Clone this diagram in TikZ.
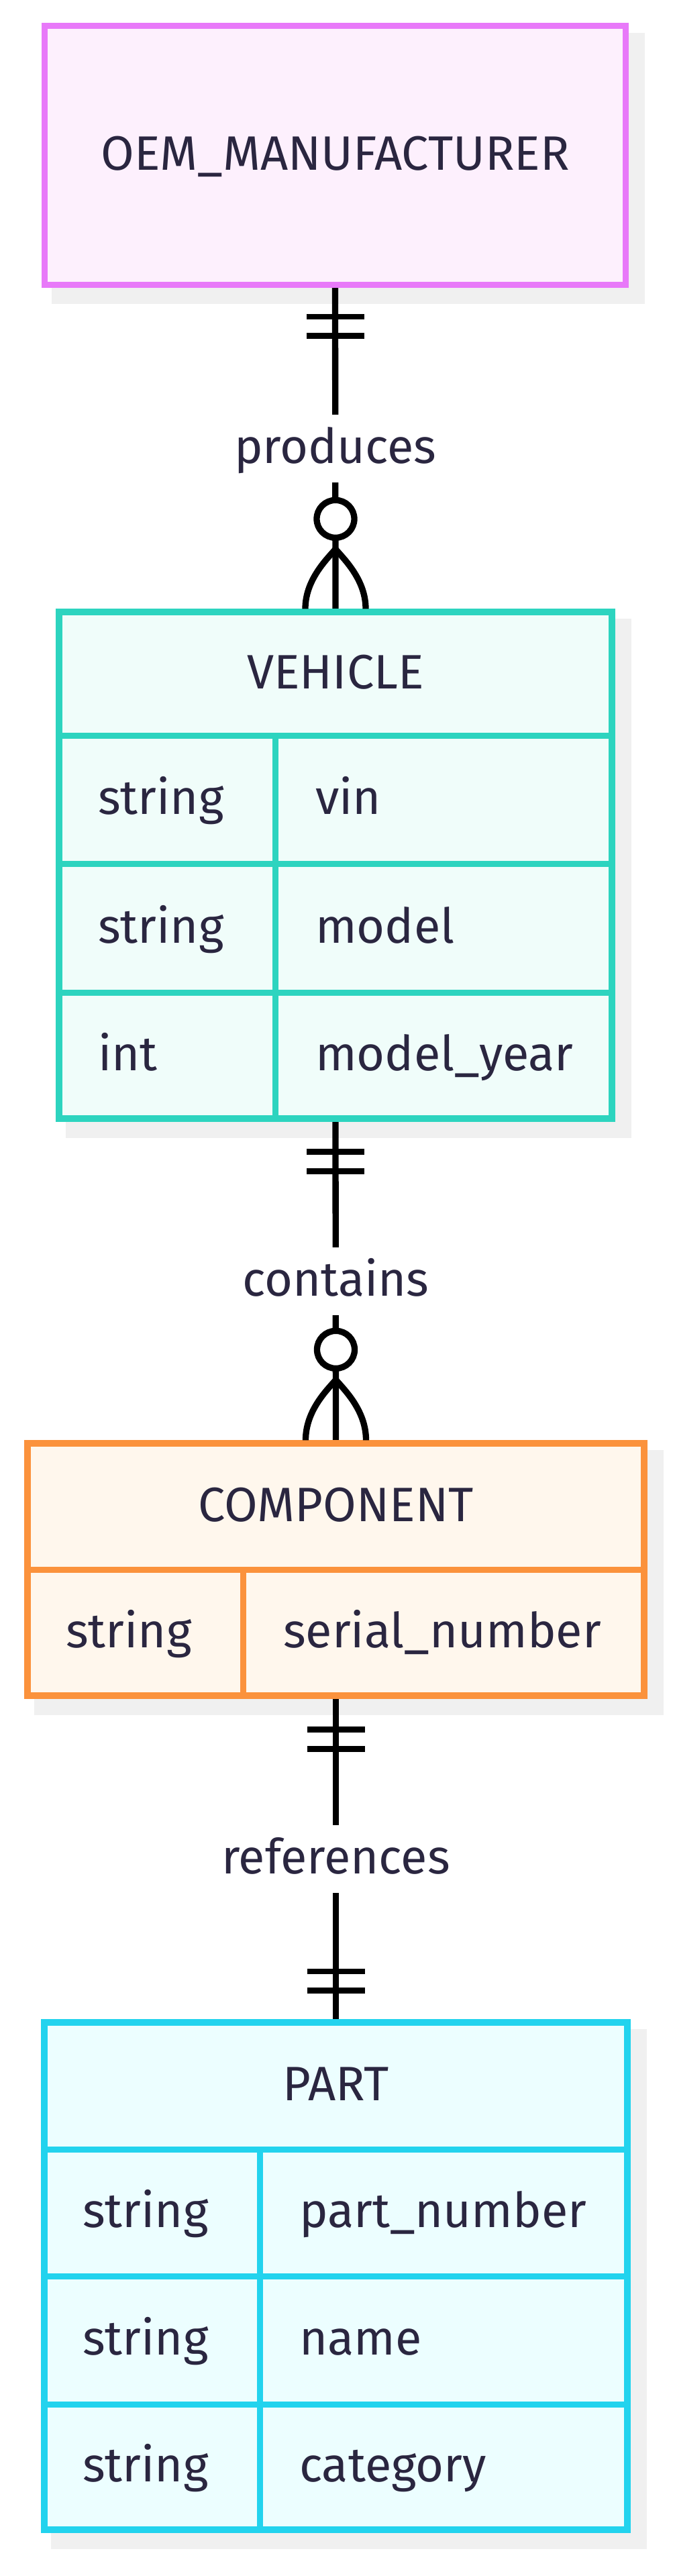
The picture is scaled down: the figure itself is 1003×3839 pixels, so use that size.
\documentclass[tikz,border=0pt]{standalone}
\usepackage{fontspec}
\setmainfont{Fira Sans}
\usetikzlibrary{calc,backgrounds}

\definecolor{oemline}{HTML}{E879F9}
\definecolor{oemfill}{HTML}{FDF0FD}
\definecolor{vehline}{HTML}{2DD4BF}
\definecolor{vehfill}{HTML}{F0FDFA}
\definecolor{compline}{HTML}{FB923C}
\definecolor{compfill}{HTML}{FFF7ED}
\definecolor{partline}{HTML}{22D3EE}
\definecolor{partfill}{HTML}{ECFEFF}
\definecolor{shadowgray}{HTML}{F0F0F0}
\definecolor{ink}{HTML}{2A2640}

\begin{document}
\begin{tikzpicture}[x=1pt, y=-1pt,
    entity/.style={rectangle, line width=9.3pt, inner sep=0pt},
    title/.style={inner sep=0pt, text=ink, text height=50pt, text depth=6pt, font=\fontsize{72}{86}\selectfont},
    field/.style={title, anchor=west},
    rel/.style={line width=9.3pt, black},
    lbl/.style={title, fill=white, minimum height=101pt, inner xsep=6pt}]
    \useasboundingbox (0,0) rectangle (1003,3839);

    % the entities
    \node[entity, draw=oemline, fill=oemfill, minimum width=866pt, minimum height=386pt] (oem) at (499.5,231.3) {};
    \node[entity, draw=vehline, fill=vehfill, minimum width=824pt, minimum height=755pt] (vehicle) at (500,1289.5) {};
    \node[entity, draw=compline, fill=compfill, minimum width=919pt, minimum height=376pt] (component) at (500.5,2339) {};
    \node[entity, draw=partline, fill=partfill, minimum width=869pt, minimum height=756pt] (part) at (500.5,3392) {};

    % shadows
    \begin{scope}[on background layer]
    \fill[shadowgray] ($(oem.north west)+(15,15)$) rectangle ($(oem.south east)+(24,24)$);
    \fill[shadowgray] ($(vehicle.north west)+(15,15)$) rectangle ($(vehicle.south east)+(24,24)$);
    \fill[shadowgray] ($(component.north west)+(15,15)$) rectangle ($(component.south east)+(24,24)$);
    \fill[shadowgray] ($(part.north west)+(15,15)$) rectangle ($(part.south east)+(24,24)$);
    \end{scope}

    % rows and columns
    \draw[line width=9pt, vehline] (88,1096) -- (912,1096) (88,1287) -- (912,1287) (88,1479) -- (912,1479) (410,1096) -- (410,1667);
    \draw[line width=9pt, compline] (41,2339) -- (960,2339) (362,2339) -- (362,2527);
    \draw[line width=9pt, partline] (66,3203) -- (935,3203) (66,3392) -- (935,3392) (66,3583) -- (935,3583) (387,3203) -- (387,3770);

    % titles
    \node[title] (oem-title) at (oem.center) {OEM\_MANUFACTURER};
    \node[title] (vehicle-title) at (500,1004) {VEHICLE};
    \node[title] (component-title) at (500.5,2245) {COMPONENT};
    \node[title] (part-title) at (500.5,3108.5) {PART};

    % attributes
    \node[field] (vehicle-t1) at (146,1191.5) {string};
    \node[field] (vehicle-n1) at (470,1191.5) {vin};
    \node[field] (vehicle-t2) at (146,1383) {string};
    \node[field] (vehicle-n2) at (470,1383) {model};
    \node[field] (vehicle-t3) at (146,1573) {int};
    \node[field] (vehicle-n3) at (470,1573) {model\_year};
    \node[field] (component-t1) at (98,2433) {string};
    \node[field] (component-n1) at (422,2433) {serial\_number};
    \node[field] (part-t1) at (123,3297.5) {string};
    \node[field] (part-n1) at (446,3297.5) {part\_number};
    \node[field] (part-t2) at (123,3487.5) {string};
    \node[field] (part-n2) at (446,3487.5) {name};
    \node[field] (part-t3) at (123,3676.5) {string};
    \node[field] (part-n3) at (446,3676.5) {category};

    % Draw the relations
    \begin{scope}[on background layer]
    \draw[rel] (oem.south) -- node[lbl] (produces) {produces} (vehicle.north);
    \draw[rel] (vehicle.south) -- node[lbl] (contains) {contains} (component.north);
    \draw[rel] (component.south) -- node[lbl] (references) {references} (part.north);
    \end{scope}

    % exactly one
    \draw[rel, line width=8.7pt] ($(oem.south)+(-43,43)$) -- ++(86,0) ($(oem.south)+(-43,71.5)$) -- ++(86,0);
    \draw[rel, line width=8.7pt] ($(vehicle.south)+(-43,45)$) -- ++(86,0) ($(vehicle.south)+(-43,73.5)$) -- ++(86,0);
    \draw[rel, line width=8.7pt] ($(component.south)+(-43,46)$) -- ++(86,0) ($(component.south)+(-43,74.5)$) -- ++(86,0);
    \draw[rel, line width=8.7pt] ($(part.north)+(-43,-71.5)$) -- ++(86,0) ($(part.north)+(-43,-43)$) -- ++(86,0);

    % zero or many
    \draw[rel, fill=white] ($(vehicle.north)+(0,-134)$) circle[radius=28];
    \draw[rel] ($(vehicle.north)+(0,-89)$) .. controls ($(vehicle.north)+(-15,-72)$) and ($(vehicle.north)+(-45,-42)$) .. ($(vehicle.north)+(-45,0)$);
    \draw[rel] ($(vehicle.north)+(0,-89)$) .. controls ($(vehicle.north)+(15,-72)$) and ($(vehicle.north)+(45,-42)$) .. ($(vehicle.north)+(45,0)$);
    \draw[rel, fill=white] ($(component.north)+(0,-135)$) circle[radius=28];
    \draw[rel] ($(component.north)+(0,-90)$) .. controls ($(component.north)+(-15,-73)$) and ($(component.north)+(-45,-43)$) .. ($(component.north)+(-45,0)$);
    \draw[rel] ($(component.north)+(0,-90)$) .. controls ($(component.north)+(15,-73)$) and ($(component.north)+(45,-43)$) .. ($(component.north)+(45,0)$);

\end{tikzpicture}
\end{document}
